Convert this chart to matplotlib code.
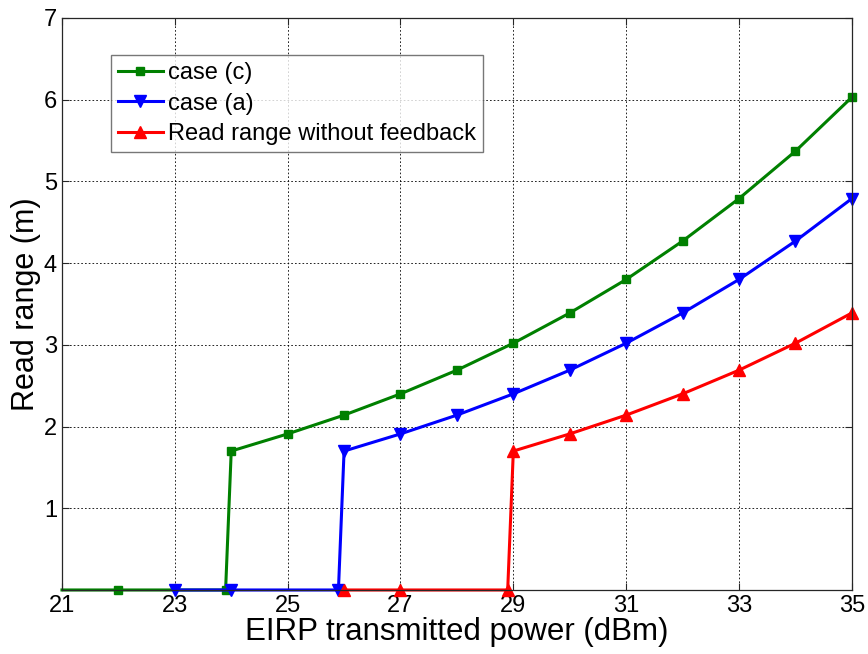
import matplotlib

matplotlib.use("Agg")
import matplotlib.pyplot as plt

plt.rcParams["font.family"] = ["Liberation Sans", "DejaVu Sans"]

# --- data --------------------------------------------------------------------

case_c_x = [21, 22, 23.9, 24, 25, 26, 27, 28, 29, 30, 31, 32, 33, 34, 35]
case_c_y = [0, 0, 0, 1.70, 1.91, 2.14, 2.40, 2.69, 3.02, 3.39, 3.80, 4.27, 4.79, 5.37, 6.03]

case_a_x = [23, 24, 25.9, 26, 27, 28, 29, 30, 31, 32, 33, 34, 35]
case_a_y = [0, 0, 0, 1.70, 1.91, 2.14, 2.40, 2.69, 3.02, 3.39, 3.80, 4.27, 4.79]

nofb_x = [26, 27, 28.9, 29, 30, 31, 32, 33, 34, 35]
nofb_y = [0, 0, 0, 1.70, 1.91, 2.14, 2.40, 2.69, 3.02, 3.39]

x_ticks = [21, 23, 25, 27, 29, 31, 33, 35]
y_ticks = [1, 2, 3, 4, 5, 6, 7]

# --- figure ------------------------------------------------------------------

fig = plt.figure(figsize=(8.68, 6.54), dpi=100)
ax = fig.add_axes([0.0714, 0.0979, 0.910, 0.8746])

# first green point sits on the axis edge without a marker in the original
ax.plot(case_c_x, case_c_y, color="#008000", lw=2.2, marker="s", ms=6,
        mfc="#008000", mec="#008000", markevery=slice(1, None), clip_on=False,
        label="case (c)")
ax.plot(case_a_x, case_a_y, color="#0000ff", lw=2.2, marker="v", ms=8,
        mfc="#0000ff", mec="#0000ff", clip_on=False, label="case (a)")
ax.plot(nofb_x, nofb_y, color="#ff0000", lw=2.2, marker="^", ms=8,
        mfc="#ff0000", mec="#ff0000", clip_on=False,
        label="Read range without feedback")

ax.set_xlim(21, 35)
ax.set_ylim(0, 7)
ax.set_xticks(x_ticks)
ax.set_yticks(y_ticks)
ax.tick_params(direction="in", top=True, right=True, labelsize=17, length=5,
               color="#262626")
ax.grid(True, color="black", ls=(0, (2, 2.5)), lw=0.6)
for s in ax.spines.values():
    s.set_color("#262626")
    s.set_linewidth(0.9)

ax.set_xlabel("EIRP transmitted power (dBm)", fontsize=22.5, labelpad=0)
ax.set_ylabel("Read range (m)", fontsize=22, labelpad=2)

leg = ax.legend(loc="upper left", bbox_to_anchor=(0.062, 0.935), fontsize=17,
                frameon=True, fancybox=False, borderpad=0.3, labelspacing=0.35,
                handlelength=1.9, handletextpad=0.2, borderaxespad=0)
leg.get_frame().set_edgecolor("#555555")
leg.get_frame().set_linewidth(1.0)

fig.savefig("out.png", dpi=100)
